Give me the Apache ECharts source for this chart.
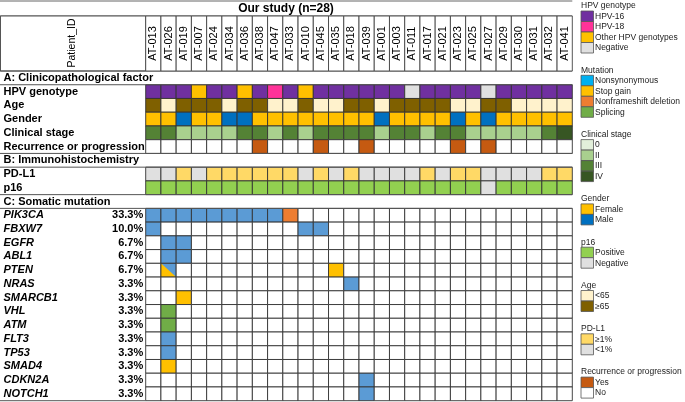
<!DOCTYPE html>
<html><head><meta charset="utf-8">
<script src="https://cdn.jsdelivr.net/npm/echarts@6/dist/echarts.min.js"></script>
<style>html,body{margin:0;padding:0;background:#fff}#c{width:685px;height:402px}</style>
</head><body><div id="c"></div>
<script>
const patients = ['AT-013','AT-026','AT-019','AT-007','AT-024','AT-034','AT-036','AT-038','AT-047','AT-033','AT-010','AT-045','AT-035','AT-018','AT-039','AT-001','AT-003','AT-011','AT-017','AT-021','AT-023','AT-025','AT-027','AT-029','AT-030','AT-031','AT-032','AT-041'];
// HPV genotype: 16, 18, O(other), N(negative)
const hpvGenotype = ['16','16','16','O','16','16','O','16','18','16','O','16','16','16','16','16','16','N','16','16','16','16','N','16','16','16','16','16'];
// Age: Y(<65), O(>=65)
const ageGroup = ['O','Y','O','O','O','Y','O','O','Y','Y','O','Y','Y','O','O','Y','O','O','O','O','Y','Y','O','O','Y','Y','Y','Y'];
const gender = ['F','F','M','F','F','M','M','F','F','F','F','F','F','F','F','M','F','F','F','F','M','F','M','F','F','F','F','F'];
const clinicalStage = ['III','III','II','II','II','II','III','III','II','III','II','III','III','III','III','II','III','III','II','III','III','II','II','II','II','II','III','IV'];
const recurrence = ['N','N','N','N','N','N','N','Y','N','N','N','Y','N','N','Y','N','N','N','N','N','Y','N','Y','N','N','N','N','N'];
const pdl1 = ['L','L','H','L','H','H','H','H','H','H','L','H','L','H','L','L','L','L','H','L','H','H','L','L','L','L','H','H'];
const p16 = ['P','P','P','P','P','P','P','P','P','P','P','P','P','P','P','P','P','P','P','P','P','P','N','P','P','P','P','P'];
// mutations: N nonsynonymous, S stop gain, D nonframeshift deletion, P splicing, SN split
const genes = ['PIK3CA','FBXW7','EGFR','ABL1','PTEN','NRAS','SMARCB1','VHL','ATM','FLT3','TP53','SMAD4','CDKN2A','NOTCH1'];
const genePct = ['33.3%','10.0%','6.7%','6.7%','6.7%','3.3%','3.3%','3.3%','3.3%','3.3%','3.3%','3.3%','3.3%','3.3%'];
const geneMut = {
  PIK3CA: {0:'N',1:'N',2:'N',3:'N',4:'N',5:'N',6:'N',7:'N',8:'N',9:'D'},
  FBXW7: {0:'N',10:'N',11:'N'},
  EGFR: {1:'N',2:'N'},
  ABL1: {1:'N',2:'N'},
  PTEN: {1:'SN',12:'S'},
  NRAS: {13:'N'},
  SMARCB1: {2:'S'},
  VHL: {1:'P'},
  ATM: {1:'P'},
  FLT3: {1:'N'},
  TP53: {1:'N'},
  SMAD4: {1:'S'},
  CDKN2A: {14:'N'},
  NOTCH1: {14:'N'}
};
const sections = ['A: Clinicopathological factor','B: Immunohistochemistry','C: Somatic mutation'];

const COL = {
  hpv: {'16':'#7030A0','18':'#FF3399','O':'#FFC000','N':'#E0E0E0'},
  age: {'Y':'#FFF2CC','O':'#7F6000'},
  gender: {'F':'#FFC000','M':'#0070C0'},
  stage: {'0':'#E2EFDA','II':'#A9D08E','III':'#548235','IV':'#375623'},
  recur: {'Y':'#C55A11','N':'#FFFFFF'},
  pdl1: {'H':'#FFD966','L':'#E0E0E0'},
  p16: {'P':'#92D050','N':'#E0E0E0'},
  mut: {'N':'#5B9BD5','S':'#FFC000','D':'#ED7D31','P':'#70AD47','':'#FFFFFF'}
};

const rowNames = [sections[0],'HPV genotype','Age','Gender','Clinical stage','Recurrence or progression',
  sections[1],'PD-L1','p16',sections[2]].concat(genes);
const rowPct = rowNames.map(n => { const i = genes.indexOf(n); return i >= 0 ? genePct[i] : ''; });

const items = [];
function addRow(name, arr, cmap) {
  const r = rowNames.indexOf(name);
  arr.forEach((v, c) => items.push({value: [c, r], kind: 'cell', code: v, cmap: cmap}));
}
addRow('HPV genotype', hpvGenotype, COL.hpv);
addRow('Age', ageGroup, COL.age);
addRow('Gender', gender, COL.gender);
addRow('Clinical stage', clinicalStage, COL.stage);
addRow('Recurrence or progression', recurrence, COL.recur);
addRow('PD-L1', pdl1, COL.pdl1);
addRow('p16', p16, COL.p16);
genes.forEach(g => addRow(g, patients.map((p, c) => geneMut[g][c] || ''), COL.mut));
sections.forEach(s => items.push({value: [0, rowNames.indexOf(s)], kind: 'sec'}));
items.push({value: [0, rowNames.length - 1], kind: 'bottom'});

const legendGroups = [
  {title:'HPV genotype', labels:['HPV-16','HPV-18','Other HPV genotypes','Negative'], colors:['#7030A0','#FF3399','#FFC000','#E0E0E0']},
  {title:'Mutation', labels:['Nonsynonymous','Stop gain','Nonframeshift deletion','Splicing'], colors:['#00B0F0','#FFC000','#ED7D31','#70AD47']},
  {title:'Clinical stage', labels:['0','II','III','IV'], colors:['#E2EFDA','#A9D08E','#548235','#375623']},
  {title:'Gender', labels:['Female','Male'], colors:['#FFC000','#0070C0']},
  {title:'p16', labels:['Positive','Negative'], colors:['#92D050','#E0E0E0']},
  {title:'Age', labels:['<65','≥65'], colors:['#FFF2CC','#7F6000']},
  {title:'PD-L1', labels:['≥1%','<1%'], colors:['#FFD966','#E0E0E0']},
  {title:'Recurrence or progression', labels:['Yes','No'], colors:['#C55A11','#FFFFFF']}
];

const FONT = "'Liberation Sans', Arial, sans-serif";
const GL = 145.7, GR = 572.3;

const graphics = [];
// title & top lines
graphics.push({type:'line', shape:{x1:0,y1:1,x2:GR,y2:1}, style:{stroke:'#666',lineWidth:1}});
graphics.push({type:'line', shape:{x1:0,y1:16,x2:GR,y2:16}, style:{stroke:'#555',lineWidth:1}});
graphics.push({type:'text', x:286, y:8.5, style:{text:'Our study (n=28)', font:'bold 12px '+FONT, fill:'#000', align:'center', verticalAlign:'middle'}});
graphics.push({type:'rect', shape:{x:0.5,y:16,width:GL-0.5,height:55}, style:{fill:'#fff',stroke:'#555',lineWidth:1}});
graphics.push({type:'text', x:72, y:43, rotation:Math.PI/2, style:{text:'Patient_ID', font:'10.5px '+FONT, fill:'#000', align:'center', verticalAlign:'middle'}});
// legend
let ly = 6;
legendGroups.forEach(g => {
  graphics.push({type:'text', x:581, y:ly, style:{text:g.title, font:'8.5px '+FONT, fill:'#222', verticalAlign:'middle'}});
  let sy = ly + 5;
  g.labels.forEach((lab, i) => {
    graphics.push({type:'rect', shape:{x:581,y:sy,width:12.5,height:10.5}, style:{fill:g.colors[i],stroke:'#555',lineWidth:0.8}});
    graphics.push({type:'text', x:595, y:sy+5.5, style:{text:lab, font:'8.5px '+FONT, fill:'#222', verticalAlign:'middle'}});
    sy += 10.5;
  });
  ly = sy + 17.3;
});

function renderMain(params, api) {
  const it = items[params.dataIndex];
  const pt = api.coord([api.value(0), api.value(1)]);
  const sz = api.size([1, 1]);
  const cs = params.coordSys;
  const x0 = pt[0] - sz[0] / 2, y0 = pt[1] - sz[1] / 2;
  if (it.kind === 'sec') {
    return {type:'group', children:[
      {type:'line', shape:{x1:0,y1:y0,x2:cs.x+cs.width,y2:y0}, style:{stroke:'#555',lineWidth:1}},
      {type:'line', shape:{x1:0,y1:y0+sz[1],x2:cs.x+cs.width,y2:y0+sz[1]}, style:{stroke:'#555',lineWidth:1}}
    ]};
  }
  if (it.kind === 'bottom') {
    return {type:'line', shape:{x1:0,y1:y0+sz[1],x2:cs.x,y2:y0+sz[1]}, style:{stroke:'#555',lineWidth:1}};
  }
  if (it.code === 'SN') {
    return {type:'group', children:[
      {type:'rect', shape:{x:x0,y:y0,width:sz[0],height:sz[1]}, style:{fill:COL.mut.N}},
      {type:'polygon', shape:{points:[[x0,y0],[x0+sz[0],y0+sz[1]],[x0,y0+sz[1]]]}, style:{fill:COL.mut.S}},
      {type:'polygon', shape:{points:[[x0,y0],[x0+sz[0],y0+sz[1]],[x0,y0+sz[1]]]}, style:{fill:'#fff'}, z2:-1, invisible:true},
      {type:'rect', shape:{x:x0,y:y0,width:sz[0],height:sz[1]}, style:{fill:'none',stroke:'#333',lineWidth:0.9}}
    ]};
  }
  return {type:'rect', shape:{x:x0,y:y0,width:sz[0],height:sz[1]}, style:{fill:it.cmap[it.code],stroke:'#333',lineWidth:0.9}};
}

function renderHeader(params, api) {
  const pt = api.coord([api.value(0), api.value(1)]);
  const sz = api.size([1, 1]);
  const x0 = pt[0] - sz[0] / 2, y0 = pt[1] - sz[1] / 2;
  return {type:'group', children:[
    {type:'rect', shape:{x:x0,y:y0,width:sz[0],height:sz[1]}, style:{fill:'#fff',stroke:'#444',lineWidth:0.9}},
    {type:'text', x:pt[0], y:pt[1], rotation:Math.PI/2, style:{text:patients[api.value(0)], font:'11px '+FONT, fill:'#000', align:'center', verticalAlign:'middle'}}
  ]};
}

const chart = echarts.init(document.getElementById('c'), null, {renderer:'canvas'});
chart.setOption({
  animation:false,
  backgroundColor:'#fff',
  grid:[
    {left:GL, right:685-GR, top:71, height:329.7},
    {left:GL, right:685-GR, top:16, height:55}
  ],
  xAxis:[
    {type:'category', gridIndex:0, data:patients, show:false},
    {type:'category', gridIndex:1, data:patients, show:false}
  ],
  yAxis:[
    {type:'category', gridIndex:0, data:rowNames, inverse:true, position:'left',
      axisLine:{show:false}, axisTick:{show:false}, splitLine:{show:false},
      axisLabel:{interval:0, align:'left', margin:GL-3.5,
        formatter: v => sections.indexOf(v) >= 0 ? '{s|'+v+'}' : (genes.indexOf(v) >= 0 ? '{g|'+v+'}' : '{r|'+v+'}'),
        rich:{
          s:{fontFamily:FONT, fontWeight:'bold', fontSize:11, color:'#000'},
          g:{fontFamily:FONT, fontWeight:'bold', fontStyle:'italic', fontSize:11, color:'#000'},
          r:{fontFamily:FONT, fontWeight:'bold', fontSize:11, color:'#000'}
        }}},
    {type:'category', gridIndex:0, data:rowNames, inverse:true, position:'left', offset:0,
      axisLine:{show:false}, axisTick:{show:false}, splitLine:{show:false},
      axisLabel:{interval:0, align:'right', margin:2.5, fontFamily:FONT, fontWeight:'bold', fontSize:11, color:'#000',
        formatter:(v, i) => rowPct[i]}},
    {type:'category', gridIndex:1, data:['Patient_ID'], show:false}
  ],
  series:[
    {type:'custom', xAxisIndex:0, yAxisIndex:0, renderItem:renderMain, data:items.map(d => d.value), clip:false, silent:true},
    {type:'custom', xAxisIndex:1, yAxisIndex:2, renderItem:renderHeader, data:patients.map((p, i) => [i, 0]), clip:false, silent:true}
  ],
  graphic:graphics
});
</script></body></html>
